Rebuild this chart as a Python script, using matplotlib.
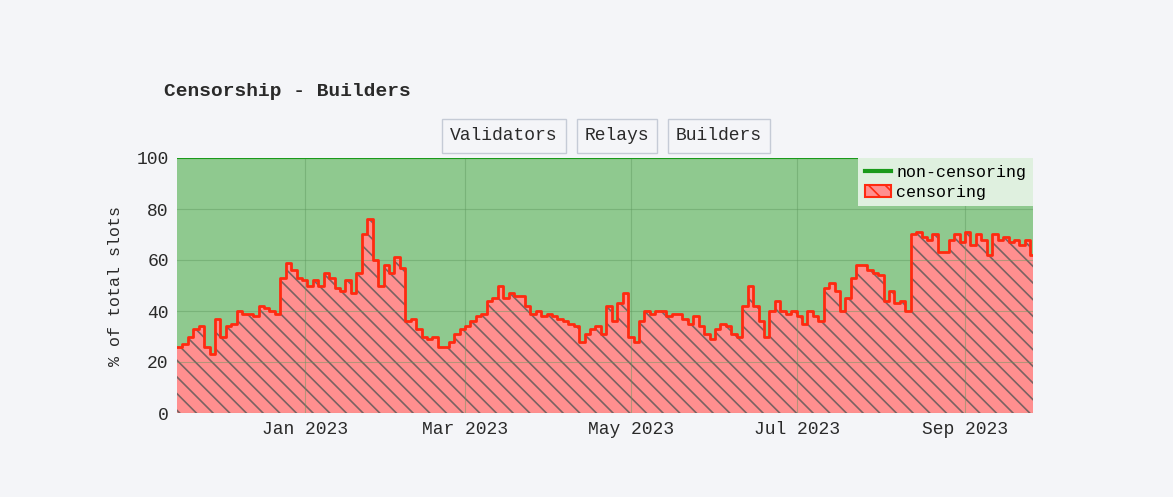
import datetime

import matplotlib.pyplot as plt
import matplotlib.dates as mdates
from matplotlib.patches import Patch
from matplotlib.lines import Line2D

plt.rcParams['font.family'] = 'Liberation Mono'
plt.rcParams['hatch.linewidth'] = 1.2

START = datetime.date(2022, 11, 15)
STEP_DAYS = 2

# share of censoring slots, one value every 2 days
censoring = [26, 27, 30, 33, 34, 26, 23, 37, 30, 34, 35, 40, 39, 39, 38, 42, 41, 40, 39, 53,
             59, 56, 53, 52, 50, 52, 50, 55, 53, 49, 48, 52, 47, 55, 70, 76, 60, 50, 58, 55,
             61, 57, 36, 37, 33, 30, 29, 30, 26, 26, 28, 31, 33, 34, 36, 38, 39, 44, 45, 50,
             45, 47, 46, 46, 42, 39, 40, 38, 39, 38, 37, 36, 35, 34, 28, 31, 33, 34, 31, 42,
             36, 43, 47, 30, 28, 36, 40, 39, 40, 40, 38, 39, 39, 37, 35, 38, 34, 31, 29, 33,
             35, 34, 31, 30, 42, 50, 42, 36, 30, 40, 44, 40, 39, 40, 38, 35, 40, 38, 36, 49,
             51, 48, 40, 45, 53, 58, 58, 56, 55, 54, 44, 48, 43, 44, 40, 70, 71, 69, 68, 70,
             63, 63, 68, 70, 67, 71, 66, 70, 68, 62, 70, 68, 69, 67, 68, 66, 68, 62, 65]
dates = [START + datetime.timedelta(days=STEP_DAYS * i) for i in range(len(censoring))]

BG = '#f4f5f8'
fig = plt.figure(figsize=(11.73, 4.97), dpi=100, facecolor=BG)
ax = fig.add_axes([177 / 1173, 1 - 413 / 497, (1033 - 177) / 1173, (413 - 158) / 497])

ax.fill_between(dates, 0, 100, step='post', facecolor='#8fc98f', edgecolor='none', zorder=1)
ax.plot([dates[0], dates[-1]], [100, 100], color='#1a9a1a', lw=1.5, zorder=3)
ax.fill_between(dates, 0, censoring, step='post', facecolor='#ff8f8f', edgecolor='#7a6262',
                hatch='\\\\', linewidth=0, zorder=2)
ax.step(dates, censoring, where='post', color='#ff2a10', lw=2, zorder=4)

ax.set_xlim(START, datetime.date(2023, 9, 26))
ax.set_ylim(0, 100)
ax.set_yticks([0, 20, 40, 60, 80, 100])
ax.xaxis.set_major_locator(mdates.MonthLocator(bymonth=[1, 3, 5, 7, 9]))
ax.xaxis.set_major_formatter(mdates.DateFormatter('%b %Y'))
ax.grid(True, color='#5f9a5f', alpha=0.45, lw=0.8, zorder=3)
ax.set_axisbelow(False)
for s in ax.spines.values():
    s.set_visible(False)
ax.tick_params(length=0, labelsize=13, colors='#2a2a2a', pad=6)
ax.set_ylabel('% of total slots', fontsize=12, color='#2a2a2a', labelpad=10)

fig.text(164 / 1173, 1 - 92 / 497, 'Censorship - Builders', fontsize=14, fontweight='bold',
         color='#2a2a2a', va='center')

# selector buttons
for label, cx in [('Validators', 504), ('Relays', 617), ('Builders', 719)]:
    fig.text(cx / 1173, 1 - 136 / 497, label, fontsize=13, color='#2a2a2a', ha='center', va='center',
             bbox=dict(boxstyle='square,pad=0.45', facecolor='#f4f5f8', edgecolor='#c5cbd6', lw=1))

handles = [Line2D([0], [0], color='#1a9a1a', lw=3),
           Patch(facecolor='#ff8f8f', edgecolor='#ff2a10', hatch='\\\\', lw=1.5)]
leg = ax.legend(handles, ['non-censoring', 'censoring'], loc='upper right', fontsize=12,
                frameon=True, fancybox=False, borderaxespad=0, handlelength=1.6,
                handletextpad=0.3, labelspacing=0.3)
leg.get_frame().set_facecolor('#dff0df')
leg.get_frame().set_edgecolor('none')
leg.get_frame().set_alpha(1)
leg.set_zorder(10)

fig.savefig('out.png', dpi=100, facecolor=BG)
